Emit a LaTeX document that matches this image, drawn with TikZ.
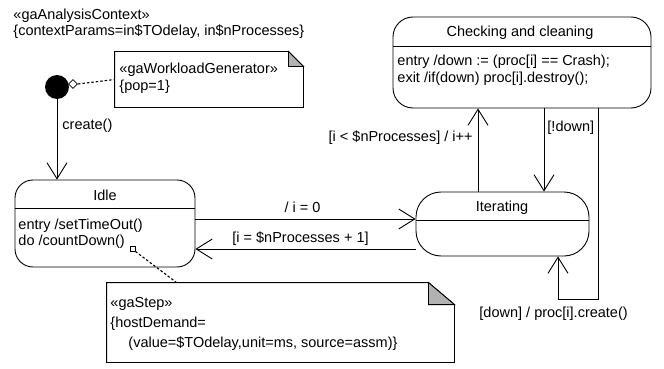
\documentclass[tikz,border=0pt]{standalone}
\usepackage{fontspec}
\setmainfont{Liberation Sans}
\usetikzlibrary{arrows.meta,shapes.geometric}
\begin{document}
\begin{tikzpicture}[x=1pt,y=-1pt,line width=0.9pt,
  every node/.style={font=\fontsize{14.5}{16}\selectfont,inner sep=0pt},
  txt/.style={anchor=base west},
  ctxt/.style={anchor=base},
  statebox/.style={draw,rounded corners=#1},
  notebox/.style={inner sep=0pt},
  link/.style={line width=1.1pt,dash pattern=on 2.5pt off 2pt},
  arr/.style={-{Straight Barb[length=16pt,width=20pt,line width=0.9pt]}},
  fold/.style={fill=black!30}]
\useasboundingbox (0,0) rectangle (664,369);

% context annotation
\node[txt] (ctx1) at (13,19.5) {«gaAnalysisContext»};
\node[txt] (ctx2) at (13,35.5) {\{contextParams=in\$TOdelay, in\$nProcesses\}};

% initial pseudo-state with workload note
\node[circle,fill=black,minimum size=24pt] (init) at (57,87) {};
\node[diamond,draw,fill=white,line width=0.8pt,minimum size=9pt] (dia) at (73,84) {};
\node[notebox,minimum width=188pt,minimum height=55pt] (wn) at (209,79.5) {};
\draw (wn.north west) -- ([xshift=-15pt]wn.north east) -- ([yshift=-15pt]wn.north east)
      -- (wn.south east) -- (wn.south west) -- cycle;
\draw[fold] ([xshift=-15pt]wn.north east) -- ([yshift=-15pt]wn.north east)
      -- ([xshift=-15pt,yshift=-15pt]wn.north east) -- cycle;
\node[txt] (wn1) at (119,74) {«gaWorkloadGenerator»};
\node[txt] (wn2) at (119,90) {\{pop=1\}};
\draw[link] (dia.east) -- (wn.west);

% states
\node[statebox=18pt,minimum width=180pt,minimum height=87pt] (idle) at (105,223.5) {};
\draw ([yshift=-29pt]idle.north west) -- ([yshift=-29pt]idle.north east);
\node[ctxt] (idlet) at (105,200) {Idle};
\node[txt] (idle1) at (18,229) {entry /setTimeOut()};
\node[txt] (idle2) at (18,245) {do /countDown()};
\node[draw,line width=0.8pt,minimum size=5pt] (mk) at (132.5,248.5) {};

\node[statebox=25pt,minimum width=173pt,minimum height=64pt] (iter) at (502.5,224) {};
\draw ([yshift=-29pt]iter.north west) -- ([yshift=-29pt]iter.north east);
\node[ctxt] (itert) at (502,211) {Iterating};

\node[statebox=20pt,minimum width=258pt,minimum height=91pt] (check) at (522,62.5) {};
\draw ([yshift=-30pt]check.north west) -- ([yshift=-30pt]check.north east);
\node[ctxt] (checkt) at (520,37) {Checking and cleaning};
\node[txt] (check1) at (397,66) {entry /down := (proc[i] == Crash);};
\node[txt] (check2) at (397,82) {exit /if(down) proc[i].destroy();};

% step note
\node[notebox,minimum width=347pt,minimum height=79pt] (gs) at (280.5,322.5) {};
\draw (gs.north west) -- ([xshift=-26pt]gs.north east) -- ([yshift=-22pt]gs.north east)
      -- (gs.south east) -- (gs.south west) -- cycle;
\draw[fold] ([xshift=-26pt]gs.north east) -- ([yshift=-22pt]gs.north east)
      -- ([xshift=-26pt,yshift=-22pt]gs.north east) -- cycle;
\node[txt] (gs1) at (110,307) {«gaStep»};
\node[txt] (gs2) at (110,327) {\{hostDemand=};
\node[txt] (gs3) at (128,347) {(value=\$TOdelay,unit=ms, source=assm)\}};
\draw[link] (mk.south east) -- ([xshift=70pt]gs.north west);

% transitions
\draw[arr] (init.south) -- (init.south |- idle.north);
\node[txt] (lcreate) at (62,129) {create()};

\draw[arr] ([yshift=4.5pt]idle.east) -- ([yshift=4.5pt]idle.east -| iter.west);
\node[ctxt] (lstart) at (302.5,212) {/ i = 0};

\draw[arr] ([yshift=-25pt]iter.west) -- ([yshift=-25pt]iter.west -| idle.east);
\node[ctxt] (lend) at (300.5,242) {[i = \$nProcesses + 1]};

\draw[arr] ([xshift=-24.5pt]iter.north) -- ([xshift=-24.5pt]iter.north |- check.south);
\node[anchor=base east] (lnext) at (473,141) {[i < \$nProcesses] / i++};

\draw[arr] ([xshift=22pt]check.south) -- ([xshift=22pt]check.south |- iter.north);
\node[txt] (lnot) at (547,131) {[!down]};

\coordinate (loopr) at (598,299);
\coordinate (loopl) at (558,299);
\draw[arr] ([xshift=76pt]check.south) -- (loopr) -- (loopl) -- (loopl |- iter.south);
\node[txt] (ldown) at (479,317) {[down] / proc[i].create()};
\end{tikzpicture}
\end{document}
